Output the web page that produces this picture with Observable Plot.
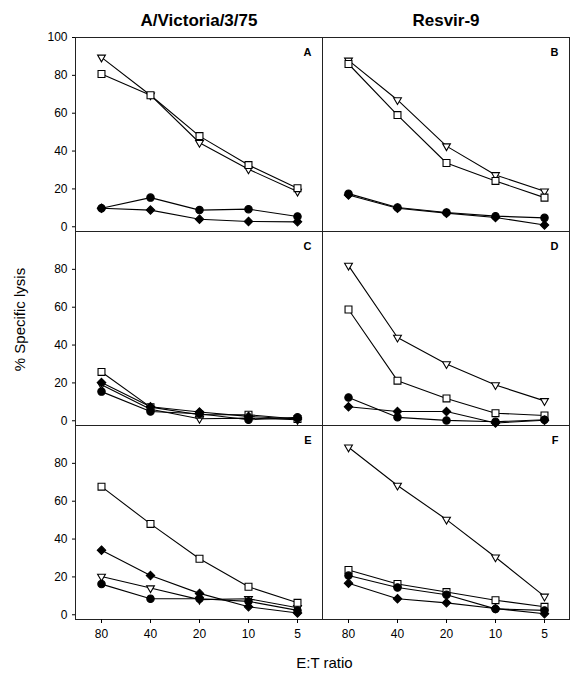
<!DOCTYPE html>
<html><head><meta charset="utf-8">
<script src="https://cdn.jsdelivr.net/npm/d3@7"></script>
<script src="https://cdn.jsdelivr.net/npm/@observablehq/plot@0.6"></script>
<style>body{margin:0;background:#fff;}</style>
</head><body><div id="chart"></div>
<script>
const ratios = ["80", "40", "20", "10", "5"];
const viruses = ["A/Victoria/3/75", "Resvir-9"];
const panels = ["A", "B", "C", "D", "E", "F"];
const yTicks = [0, 20, 40, 60, 80];
const topTick = [100];

// values per panel A..F, at E:T 80, 40, 20, 10, 5
const triangle = [
  [89.5, 69.5, 44.4, 30.4, 18.6],
  [87.9, 67.0, 42.6, 27.4, 18.8],
  [19.0, 6.1, 1.1, 1.4, 0.5],
  [82.0, 44.0, 30.0, 18.9, 10.5],
  [20.2, 14.1, 8.0, 8.5, 3.7],
  [88.5, 68.3, 50.3, 30.4, 9.7]
];
const square = [
  [80.7, 69.5, 47.9, 32.6, 20.4],
  [86.0, 59.0, 33.7, 24.2, 15.4],
  [25.8, 7.2, 3.2, 3.2, 0.9],
  [58.8, 21.2, 11.8, 4.0, 2.8],
  [67.7, 48.0, 29.6, 14.8, 6.3],
  [23.7, 16.3, 12.0, 7.7, 4.2]
];
const circle = [
  [9.8, 15.4, 8.8, 9.3, 5.4],
  [17.5, 10.2, 7.5, 5.6, 4.7],
  [15.4, 4.9, 3.7, 0.5, 1.8],
  [12.3, 1.8, 0.2, -0.5, 0.5],
  [16.2, 8.5, 8.5, 7.1, 2.3],
  [20.7, 14.4, 10.6, 3.1, 2.3]
];
const diamond = [
  [9.8, 8.8, 4.0, 2.8, 2.6],
  [16.8, 9.8, 7.2, 4.9, 0.9],
  [20.2, 7.4, 4.6, 2.3, 0.9],
  [7.4, 4.9, 4.9, -1.2, 0.3],
  [34.1, 20.7, 11.3, 4.2, 0.9],
  [16.7, 8.5, 6.3, 3.3, 0.5]
];

const seriesList = [["triangle", triangle], ["square", square], ["circle", circle], ["diamond", diamond]];
const rows = [];
panels.forEach((p, i) => {
  seriesList.forEach(([s, vals]) => {
    vals[i].forEach((v, j) => rows.push({panel: p, virus: viruses[i % 2], row: Math.floor(i / 2), ratio: ratios[j], series: s, value: v}));
  });
});
const letters = panels.map((p, i) => ({panel: p, virus: viruses[i % 2], row: Math.floor(i / 2)}));

const symStyle = {
  triangle: {symbol: "triangle", fill: "white", r: 2.9, rotate: 180},
  square: {symbol: "square", fill: "white", r: 3.9},
  circle: {symbol: "circle", fill: "black", r: 3.7},
  diamond: {symbol: "diamond2", fill: "black", r: 3.8}
};
const dotMarks = seriesList.map(([s]) =>
  Plot.dot(rows.filter(d => d.series === s), {
    x: "ratio", y: "value", fx: "virus", fy: "row",
    stroke: "black", strokeWidth: 1.1, ...symStyle[s]
  })
);

const chart = Plot.plot({
  width: 581, height: 677,
  marginLeft: 75, marginRight: 12, marginTop: 36, marginBottom: 58,
  style: {fontFamily: "'Liberation Sans', Arial, sans-serif", fontSize: "12px", color: "black", background: "white"},
  fx: {domain: viruses, padding: 0},
  fy: {domain: [0, 1, 2], padding: 0, axis: null},
  x: {type: "point", domain: ratios, padding: 0.5},
  y: {domain: [-2.5, 100]},
  marks: [
    Plot.frame({stroke: "#222", strokeWidth: 1}),
    Plot.axisFx({anchor: "top", label: null, tickSize: 0, tickPadding: 12, fontSize: 17, fontWeight: "bold"}),
    Plot.axisY({ticks: yTicks, facetAnchor: "left", tickSize: 3, tickPadding: 5, label: null, fontSize: 12}),
    Plot.axisY({ticks: topTick, facetAnchor: "top-left", tickSize: 3, tickPadding: 5, label: null, fontSize: 12}),
    Plot.axisX({facetAnchor: "bottom", tickSize: 4, tickPadding: 6, label: null, fontSize: 12}),
    Plot.line(rows, {x: "ratio", y: "value", z: "series", fx: "virus", fy: "row", stroke: "black", strokeWidth: 1.1}),
    ...dotMarks,
    Plot.text(letters, {fx: "virus", fy: "row", text: "panel", frameAnchor: "top-right", dx: -11, dy: 11, fontWeight: "bold", fontSize: 11}),
    Plot.text([{virus: viruses[0], row: 1, t: "% Specific lysis"}], {fx: "virus", fy: "row", text: "t", frameAnchor: "left", rotate: -90, dx: -55, dy: -9, textAnchor: "middle", lineAnchor: "middle", fontSize: 15}),
    Plot.text(["E:T ratio"], {facet: "super", frameAnchor: "bottom", dx: 2, dy: 44, lineAnchor: "middle", fontSize: 15})
  ]
});
document.getElementById("chart").append(chart);
</script>
</body></html>
